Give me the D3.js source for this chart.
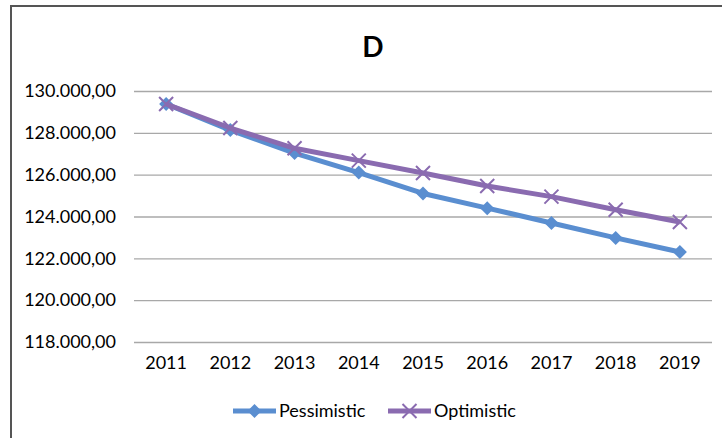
<!DOCTYPE html>
<html>
<head>
<meta charset="utf-8">
<script src="https://cdn.jsdelivr.net/npm/d3@7/dist/d3.min.js"></script>
<style>
  html, body { margin: 0; padding: 0; background: #fff; }
  svg { display: block; }
</style>
</head>
<body>
<svg id="chart" width="722" height="438"></svg>
<script>
// Population projection, scenario D
const years = ["2011", "2012", "2013", "2014", "2015", "2016", "2017", "2018", "2019"];
const pessimistic = [129380, 128130, 127030, 126100, 125100, 124400, 123690, 122975, 122300];
const optimistic  = [129380, 128230, 127260, 126670, 126080, 125460, 124950, 124320, 123735];
const yTicks = [118000, 120000, 122000, 124000, 126000, 128000, 130000];
const seriesNames = ["Pessimistic", "Optimistic"];
const colors = ["#5A8ED0", "#8A6BB0"];

const svg = d3.select("#chart");
const W = 722, H = 438;
const margin = { left: 134, right: 10, top: 91, bottom: 96 };
const font = "Lato, 'Liberation Sans', sans-serif";

// Chart frame (left and top edges)
svg.append("path")
  .attr("d", `M11,${H} L11,6 L${W},6`)
  .attr("fill", "none")
  .attr("stroke", "#555")
  .attr("stroke-width", 2);

// Title
svg.append("text")
  .attr("x", 373).attr("y", 57)
  .attr("text-anchor", "middle")
  .attr("font-family", font)
  .attr("font-weight", "bold")
  .attr("font-size", 28)
  .attr("fill", "#000")
  .text("D");

const x = d3.scaleBand().domain(years)
  .range([margin.left, W - margin.right]);
const y = d3.scaleLinear().domain([118000, 130000])
  .range([H - margin.bottom, margin.top]);

const fmt = v => d3.format(",.2f")(v).replace(/,/g, "#").replace(/\./g, ",").replace(/#/g, ".");

// Horizontal gridlines and value labels
const yAxis = d3.axisLeft(y)
  .tickValues(yTicks)
  .tickSize(-(W - margin.right - margin.left))
  .tickPadding(18)
  .tickFormat(fmt);
const gy = svg.append("g")
  .attr("transform", `translate(${margin.left},0)`)
  .call(yAxis);
gy.select(".domain").remove();
gy.selectAll(".tick line").attr("stroke", "#A8A8A8").attr("stroke-width", 1.3);
gy.selectAll(".tick text")
  .attr("font-family", font)
  .attr("font-size", 18)
  .attr("fill", "#000");

// Category labels
const xAxis = d3.axisBottom(x).tickSize(0).tickPadding(14);
const gx = svg.append("g")
  .attr("transform", `translate(0,${H - margin.bottom})`)
  .call(xAxis);
gx.select(".domain").remove();
gx.selectAll(".tick text")
  .attr("font-family", font)
  .attr("font-size", 18)
  .attr("fill", "#000");

const cx = d => x(d) + x.bandwidth() / 2;
const line = d3.line().x(d => cx(d.year)).y(d => y(d.value));

const series = [pessimistic, optimistic].map((vals, i) => ({
  name: seriesNames[i],
  color: colors[i],
  points: years.map((yr, j) => ({ year: yr, value: vals[j] }))
}));

function diamond(g, px, py, color, r) {
  g.append("path")
    .attr("d", `M${px},${py - r} L${px + r},${py} L${px},${py + r} L${px - r},${py} Z`)
    .attr("fill", color);
}
function cross(g, px, py, color, r) {
  g.append("path")
    .attr("d", `M${px - r},${py - r} L${px + r},${py + r} M${px - r},${py + r} L${px + r},${py - r}`)
    .attr("stroke", color)
    .attr("stroke-width", 2)
    .attr("fill", "none");
}

series.forEach((s, i) => {
  const g = svg.append("g");
  g.append("path")
    .datum(s.points)
    .attr("d", line)
    .attr("fill", "none")
    .attr("stroke", s.color)
    .attr("stroke-width", 5)
    .attr("stroke-linejoin", "round");
  s.points.forEach(p => {
    if (i === 0) diamond(g, cx(p.year), y(p.value), s.color, 7);
    else cross(g, cx(p.year), y(p.value), s.color, 7);
  });
});

// Legend
const legendItems = [
  { x0: 233, x1: 276, tx: 279 },
  { x0: 388, x1: 431, tx: 434 }
];
series.forEach((s, i) => {
  const it = legendItems[i];
  const g = svg.append("g");
  const ly = 411;
  g.append("line")
    .attr("x1", it.x0).attr("x2", it.x1)
    .attr("y1", ly).attr("y2", ly)
    .attr("stroke", s.color).attr("stroke-width", 5);
  const mx = (it.x0 + it.x1) / 2;
  if (i === 0) diamond(g, mx, ly, s.color, 7);
  else cross(g, mx, ly, s.color, 7);
  g.append("text")
    .attr("x", it.tx).attr("y", ly + 6)
    .attr("font-family", font)
    .attr("font-size", 18)
    .attr("fill", "#000")
    .text(s.name);
});
</script>
</body>
</html>
